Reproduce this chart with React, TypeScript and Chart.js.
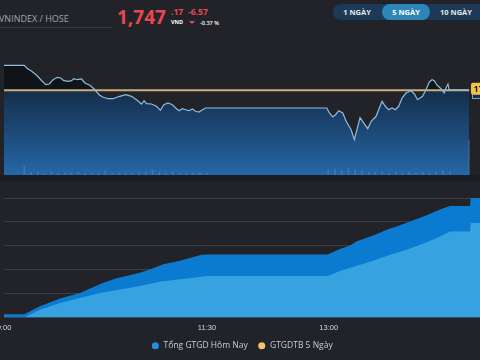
import React, { useEffect, useRef } from "react";
import { Chart, registerables } from "chart.js";

Chart.register(...registerables);

// ---- Header data ----
const INDEX_NAME = "VNINDEX / HOSE";
const PRICE_INT = "1,747";
const PRICE_DEC = ".17";
const CHANGE = "-6.57";
const CHANGE_PCT = "-0.37 %";
const CURRENCY = "VND";
const RANGE_BUTTONS = ["1 NGÀY", "5 NGÀY", "10 NGÀY"];
const ACTIVE_BUTTON = 1;

// ---- Top chart: intraday price (minutes after 9:00) ----
const PRICE_TIMES = [
  0, 15, 16.8, 20.5, 24.2, 27.9, 31, 33.5, 36.4, 39.4,
  41.9, 44.3, 47.5, 50, 51.7, 54.2, 57.4, 59.9, 63.6, 67.3,
  70.4, 73.4, 77.1, 80.8, 84.5, 85.7, 90.2, 94.4, 98.1, 101.8,
  103.7, 105.5, 109.2, 112.9, 115.8, 118.3, 121.4, 124.7, 127.1, 129.6,
  132.1, 134.5, 137, 139.5, 141.9, 144.3, 146.9, 149.3, 239, 240.9,
  243.4, 245.4, 247.8, 250.8, 253.3, 257, 259.4, 261.9, 263.6, 269.3,
  271.8, 275.5, 277.9, 279.9, 282.3, 284.8, 287.3, 289.7, 292.2, 294.7,
  297.6, 301.3, 303.8, 306.2, 309.9, 312.4, 314.9, 316.9, 318.6, 320.3,
  323.5, 325.9, 327.2, 328.7, 329.6, 344.4,
];
const PRICE_VALUES = [
  1763.69, 1763.69, 1762.61, 1761.3, 1759.7, 1757.55, 1755.96, 1756.24, 1757.95, 1758.91,
  1758.63, 1757.55, 1757.31, 1757.55, 1758.35, 1757.95, 1758.23, 1756.64, 1755.72, 1753.97,
  1751.98, 1750.94, 1750.38, 1750.38, 1751.18, 1751.34, 1751.98, 1751.34, 1749.99, 1748.27,
  1749.59, 1748.39, 1748.27, 1747.36, 1745.76, 1747.99, 1748.67, 1747.99, 1746.68, 1745.61,
  1746.4, 1746.0, 1745.61, 1746.28, 1745.37, 1745.09, 1746.0, 1746.68, 1746.68, 1744.69,
  1743.1, 1744.01, 1745.61, 1744.69, 1741.38, 1738.04, 1734.06, 1739.39, 1742.82, 1738.44,
  1741.38, 1743.38, 1746.68, 1749.35, 1747.36, 1746.0, 1746.68, 1746.0, 1747.36, 1750.66,
  1752.65, 1753.57, 1752.26, 1749.99, 1751.34, 1753.97, 1757.04, 1757.95, 1757.55, 1755.96,
  1754.37, 1752.65, 1754.65, 1756.24, 1753.85, 1753.85,
];
const REF_PRICE = 1753.74;
const PRICE_MIN = 1720;
const PRICE_MAX = 1765;
const TOP_TIME_MAX = 345;

const VOL_TIMES = [
  15, 20, 25, 30, 35, 40, 45, 50, 55, 60, 65, 70, 75, 80, 85, 90, 95, 100, 105, 110,
  115, 120, 125, 130, 135, 140, 145, 150,
  240, 245, 250, 255, 260, 265, 270, 275, 280, 285, 290, 295, 300, 305, 310, 315, 320, 325, 330,
  344.4,
];
const VOL_VALUES = [
  9, 3, 3, 2, 3, 2, 2, 2, 3, 2, 2, 2, 4, 2, 2, 2, 2, 3, 3, 5,
  3, 2, 3, 2, 2, 2, 3, 2,
  5, 6, 4, 7, 5, 4, 3, 3, 3, 2, 3, 2, 3, 2, 3, 2, 3, 4, 3,
  35,
];
const VOL_MAX = 113;

// ---- Bottom chart: cumulative turnover ----
const TURNOVER_A_TIMES = [
  0, 15, 26.6, 41.4, 56.2, 63.6, 73.4, 83.3, 100.5, 110.3, 117.7, 130.1, 146.1, 150,
  239, 248.3, 255.7, 260.7, 272.9, 282.9, 292.7, 302.5, 312.4, 322.2, 329.6, 344.4, 344.9, 351.8,
];
const TURNOVER_A_VALUES = [
  700, 700, 2330, 3962, 5148, 6080, 7267, 8199, 9385, 10318, 11165, 11864, 13135, 13200,
  13200, 14343, 15042, 15953, 17161, 18368, 19279, 20339, 21398, 22605, 23305, 23305, 25000, 25000,
];
const TURNOVER_B_TIMES = [
  0, 15, 26.6, 41.4, 56.2, 71, 85.7, 100.5, 115.3, 130.1, 146.1, 150,
  239, 248.3, 260.7, 272.9, 285.3, 297.6, 312.4, 322.2, 329.6, 344.4, 344.9, 351.8,
];
const TURNOVER_B_VALUES = [
  0, 0, 1631, 3030, 4089, 5148, 5868, 6568, 7479, 7987, 8538, 8690,
  8690, 9746, 10805, 11864, 13135, 14195, 15741, 16949, 18008, 18008, 19767, 19767,
];
const TURNOVER_MAX = 25000;
const TURNOVER_STEP = 5000;
const BOTTOM_TIME_MAX = 351.8;
const TIME_TICKS = [0, 150, 240];
const TIME_TICK_LABELS = ["9:00", "11:30", "13:00"];
const LEGEND_LABELS = ["Tổng GTGD Hôm Nay", "GTGDTB 5 Ngày"];
const LEGEND_COLORS = ["#1f90ea", "#f3c266"];

const BG = "#212328";

const zip = (xs: number[], ys: number[]) => xs.map((x, i) => ({ x, y: ys[i] }));

const priceLabelsPlugin = {
  id: "priceLabels",
  afterDatasetsDraw(chart: any) {
    const { ctx, chartArea, scales } = chart;
    const yRef = scales.y.getPixelForValue(REF_PRICE);
    const yLast = scales.y.getPixelForValue(PRICE_VALUES[PRICE_VALUES.length - 1]);
    const x0 = chartArea.right + 1;
    ctx.save();
    ctx.fillStyle = "#15304d";
    ctx.strokeStyle = "#6fa7d0";
    ctx.lineWidth = 1;
    ctx.fillRect(x0 + 1, yLast - 4, 40, 12.5);
    ctx.strokeRect(x0 + 1.5, yLast - 3.5, 40, 12);
    ctx.fillStyle = "#f3c446";
    ctx.beginPath();
    (ctx as any).roundRect(x0, yRef - 7.5, 44, 12, 2);
    ctx.fill();
    ctx.fillStyle = "#1d1d1d";
    ctx.font = "bold 9px 'Open Sans'";
    ctx.textBaseline = "middle";
    ctx.fillText(REF_PRICE.toFixed(2), x0 + 2.5, yRef - 1.2);
    ctx.restore();
  },
};

export default function App() {
  const topRef = useRef<HTMLCanvasElement>(null);
  const botRef = useRef<HTMLCanvasElement>(null);

  useEffect(() => {
    const top = new Chart(topRef.current as HTMLCanvasElement, {
      type: "line",
      data: {
        datasets: [
          {
            label: "price",
            data: zip(PRICE_TIMES, PRICE_VALUES),
            borderColor: "#8fbcdb",
            borderWidth: 1.2,
            pointRadius: 0,
            tension: 0,
            fill: "start",
            backgroundColor: (c: any) => {
              const chart = c.chart;
              const area = chart.chartArea;
              if (!area) return "transparent";
              const g = chart.ctx.createLinearGradient(0, area.top, 0, area.bottom);
              const r = Math.max(0, Math.min(1, (chart.scales.y.getPixelForValue(REF_PRICE) - area.top) / (area.bottom - area.top)));
              g.addColorStop(0, "#0e1115");
              g.addColorStop(r, "#11151a");
              g.addColorStop(Math.min(1, r + 0.002), "#152e4b");
              g.addColorStop(0.55, "#1b4470");
              g.addColorStop(1, "#2667a7");
              return g;
            },
            yAxisID: "y",
          } as any,
          {
            label: "ref",
            data: zip([0, PRICE_TIMES[PRICE_TIMES.length - 1]], [REF_PRICE, REF_PRICE]),
            borderColor: "#c6b07c",
            borderWidth: 2,
            pointRadius: 0,
            fill: false,
            yAxisID: "y",
          },
          {
            type: "bar",
            label: "vol",
            data: zip(VOL_TIMES, VOL_VALUES),
            backgroundColor: "rgba(150,190,225,0.22)",
            barThickness: 1,
            grouped: false,
            yAxisID: "yv",
          } as any,
        ],
      },
      options: {
        animation: false,
        responsive: false,
        layout: { padding: { left: 4, right: 10, top: 4, bottom: 5 } },
        plugins: {
          legend: { display: false },
          tooltip: { enabled: false },
          filler: { drawTime: "beforeDatasetsDraw" },
        } as any,
        scales: {
          x: { type: "linear", min: 0, max: TOP_TIME_MAX, display: false, offset: false },
          y: { min: PRICE_MIN, max: PRICE_MAX, display: false },
          yv: { min: 0, max: VOL_MAX, display: false },
        },
      },
      plugins: [priceLabelsPlugin],
    });

    const bot = new Chart(botRef.current as HTMLCanvasElement, {
      type: "line",
      data: {
        datasets: [
          {
            label: LEGEND_LABELS[1],
            data: zip(TURNOVER_B_TIMES, TURNOVER_B_VALUES),
            borderWidth: 0,
            borderColor: "#36a2df",
            backgroundColor: "#36a2df",
            pointRadius: 0,
            fill: "origin",
            tension: 0,
          },
          {
            label: LEGEND_LABELS[0],
            data: zip(TURNOVER_A_TIMES, TURNOVER_A_VALUES),
            borderWidth: 0,
            borderColor: "#0a7bd0",
            backgroundColor: "#0a7bd0",
            pointRadius: 0,
            fill: "origin",
            tension: 0,
          },
        ],
      },
      options: {
        animation: false,
        responsive: false,
        layout: { padding: { left: 4, right: 0, top: 18, bottom: 0 } },
        plugins: {
          tooltip: { enabled: false },
          legend: {
            position: "bottom",
            labels: {
              usePointStyle: true,
              boxWidth: 8,
              boxHeight: 5,
              padding: 3,
              color: "#c9ccd2",
              font: { size: 8.5, family: "'Open Sans'" },
              generateLabels: () =>
                LEGEND_LABELS.map((t, i) => ({
                  text: i < LEGEND_LABELS.length - 1 ? t + "\u2002\u2009\u2009" : t,
                  fillStyle: LEGEND_COLORS[i],
                  strokeStyle: LEGEND_COLORS[i],
                  lineWidth: 0,
                  pointStyle: "circle",
                  hidden: false,
                  datasetIndex: i,
                  fontColor: "#c9ccd2",
                })),
            },
          },
        },
        scales: {
          x: {
            type: "linear",
            min: 0,
            max: BOTTOM_TIME_MAX,
            grid: { display: false, drawTicks: false },
            border: { display: false },
            afterBuildTicks: (s: any) => {
              s.ticks = TIME_TICKS.map((v) => ({ value: v }));
            },
            afterFit: (s: any) => {
              s.paddingLeft = 0;
              s.paddingRight = 0;
            },
            ticks: {
              autoSkip: false,
              maxRotation: 0,
              color: "#d4d6da",
              padding: 6,
              font: { size: 7.5, family: "'Liberation Sans'" },
              callback: (v: any) => {
                const i = TIME_TICKS.indexOf(Number(v));
                return i >= 0 ? TIME_TICK_LABELS[i] : "";
              },
            },
          },
          y: {
            min: 0,
            max: TURNOVER_MAX,
            ticks: { display: false, stepSize: TURNOVER_STEP },
            grid: { color: "#3b3e45", drawTicks: false, lineWidth: 1 },
            border: { display: false },
            afterFit: (s: any) => {
              s.width = 0;
            },
          },
        },
      },
    });

    return () => {
      top.destroy();
      bot.destroy();
    };
  }, []);

  const abs = (o: any) => ({ position: "absolute" as const, whiteSpace: "nowrap" as const, ...o });

  return (
    <div
      style={{
        position: "fixed",
        left: 0,
        top: 0,
        width: 480,
        height: 360,
        background: BG,
        overflow: "hidden",
        fontFamily: "'Open Sans', sans-serif",
      }}
    >
      <div style={abs({ left: -1, top: 13, fontSize: 9, lineHeight: "12px", color: "#a0a4ab" })}>{INDEX_NAME}</div>
      <div style={abs({ left: 0, top: 27, width: 112, height: 1, background: "#363940" })} />
      <div style={abs({ left: 117, top: 5, fontSize: 19, lineHeight: "24px", fontWeight: 700, color: "#e9474f" })}>{PRICE_INT}</div>
      <div style={abs({ left: 171, top: 7, fontSize: 8.5, lineHeight: "10px", fontWeight: 700, color: "#e9474f" })}>{PRICE_DEC}</div>
      <div style={abs({ left: 188, top: 7, fontSize: 8.5, lineHeight: "10px", fontWeight: 700, color: "#e9474f" })}>{CHANGE}</div>
      <div style={abs({ left: 171, top: 19, fontSize: 5.5, lineHeight: "7px", fontWeight: 700, color: "#ffffff" })}>{CURRENCY}</div>
      <div
        style={abs({
          left: 189,
          top: 21,
          width: 0,
          height: 0,
          borderLeft: "3px solid transparent",
          borderRight: "3px solid transparent",
          borderTop: "3px solid #e9474f",
        })}
      />
      <div style={abs({ left: 200, top: 19.5, fontSize: 5.5, lineHeight: "7px", fontWeight: 600, color: "#ffffff" })}>{CHANGE_PCT}</div>

      <div style={abs({ left: 333, top: 4, width: 170, height: 16, borderRadius: 8, background: "#1c3a56" })} />
      <div style={abs({ left: 382, top: 4, width: 48, height: 16, borderRadius: 8, background: "#2d86b8" })} />
      {RANGE_BUTTONS.map((b, i) => (
        <div
          key={b}
          style={abs({
            left: [333, 382, 430][i],
            top: 4,
            width: [48, 48, 52][i],
            height: 16,
            lineHeight: "16px",
            textAlign: "center",
            fontSize: 7.5,
            fontWeight: 700,
            color: i === ACTIVE_BUTTON ? "#ffffff" : "#e3e9ef",
          })}
        >
          {b}
        </div>
      ))}

      <canvas ref={topRef} width={480} height={122} style={abs({ left: 0, top: 58, width: 480, height: 122 })} />
      <div style={abs({ left: 0, top: 175, width: 480, height: 7, background: "#1b1d21" })} />
      <canvas ref={botRef} width={480} height={180} style={abs({ left: 0, top: 180, width: 480, height: 180 })} />
    </div>
  );
}
